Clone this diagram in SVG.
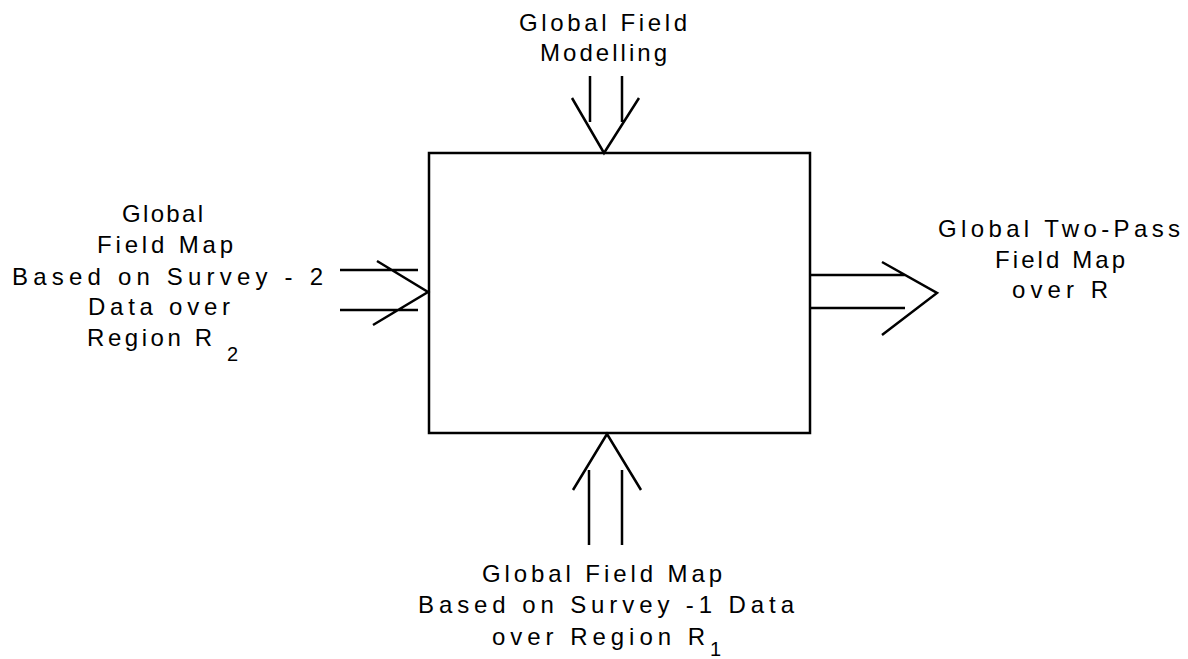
<svg xmlns="http://www.w3.org/2000/svg" width="1188" height="659" viewBox="0 0 1188 659">
<style>
.t{font-family:"Liberation Sans",Arial,sans-serif;font-size:24px;fill:#000}
.s{font-family:"Liberation Sans",Arial,sans-serif;font-size:20px;fill:#000}
.ln{stroke:#000;stroke-width:2.5;fill:none;stroke-linejoin:miter}
</style>
<rect width="1188" height="659" fill="#fff"/>
<g id="process">
<rect class="ln" x="429" y="153" width="381" height="280"/>
</g>
<g id="connectors">
<path class="ln" d="M590 76V122M622 76V122M572 98L604 153L639 98"/>
<path class="ln" d="M589 545V470M622 545V470M573 490L607 434L641 490"/>
<path class="ln" d="M340 270H418M340 310H418M377 261L428 292L373 325"/>
<path class="ln" d="M811 275H905M811 308H905M882 262L937 293L882 335"/>
</g>
<g id="label-top">
<text class="t" x="519" y="31" textLength="168" lengthAdjust="spacing">Global Field</text>
<text class="t" x="540" y="61" textLength="127" lengthAdjust="spacing">Modelling</text>
</g>
<g id="label-left">
<text class="t" x="122" y="222" textLength="81" lengthAdjust="spacing">Global</text>
<text class="t" x="97" y="253" textLength="136" lengthAdjust="spacing">Field Map</text>
<text class="t" x="12" y="285" textLength="311" lengthAdjust="spacing">Based on Survey - 2</text>
<text class="t" x="88" y="315" textLength="142" lengthAdjust="spacing">Data over</text>
<text class="t" x="87" y="346" textLength="125" lengthAdjust="spacing">Region R</text>
<text class="s" x="227" y="361">2</text>
</g>
<g id="label-right">
<text class="t" x="938" y="237" textLength="242" lengthAdjust="spacing">Global Two-Pass</text>
<text class="t" x="995" y="268" textLength="130" lengthAdjust="spacing">Field Map</text>
<text class="t" x="1012" y="298" textLength="96" lengthAdjust="spacing">over R</text>
</g>
<g id="label-bottom">
<text class="t" x="482" y="582" textLength="240" lengthAdjust="spacing">Global Field Map</text>
<text class="t" x="418" y="613" textLength="376" lengthAdjust="spacing">Based on Survey -1 Data</text>
<text class="t" x="492" y="645" textLength="213" lengthAdjust="spacing">over Region R</text>
<text class="s" x="710" y="656">1</text>
</g>
</svg>
